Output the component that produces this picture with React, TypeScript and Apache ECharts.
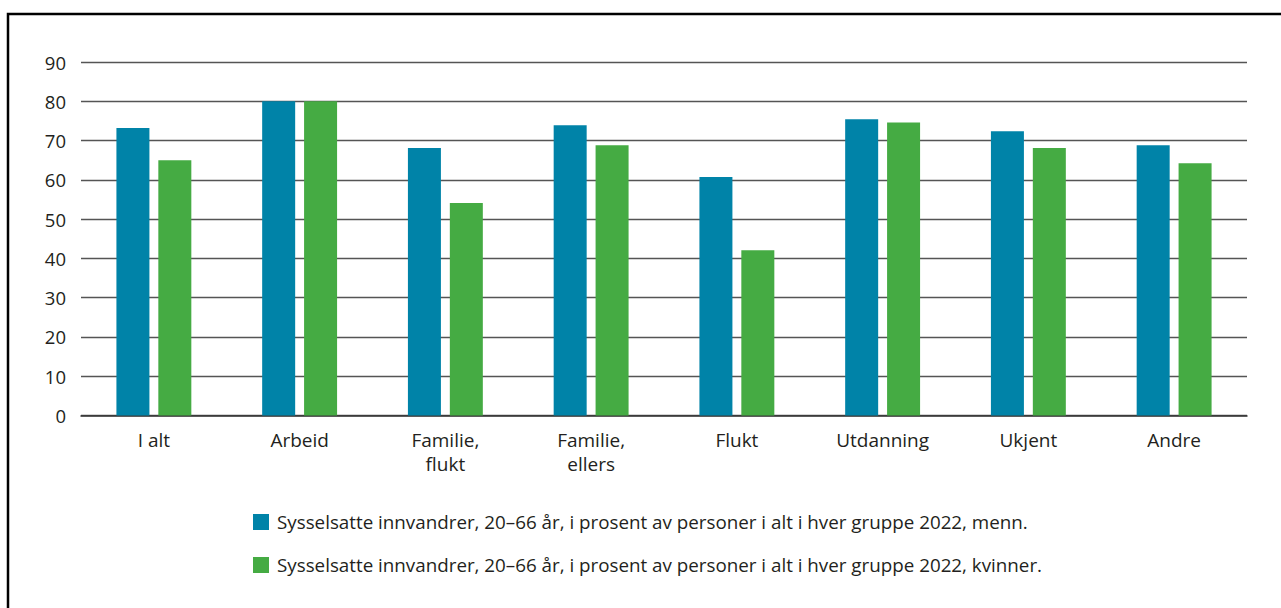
import React, { useEffect, useRef } from "react";
import * as echarts from "echarts";

const categories = ["I alt", "Arbeid", "Familie,\nflukt", "Familie,\nellers", "Flukt", "Utdanning", "Ukjent", "Andre"];
const menn = [73.2, 80.0, 68.1, 73.9, 60.7, 75.4, 72.4, 68.8];
const kvinner = [65.0, 80.0, 54.1, 68.8, 42.1, 74.6, 68.1, 64.2];
const seriesNames = [
  "Sysselsatte innvandrer, 20–66 år, i prosent av personer i alt i hver gruppe 2022, menn.",
  "Sysselsatte innvandrer, 20–66 år, i prosent av personer i alt i hver gruppe 2022, kvinner.",
];
const yTicks = { min: 0, max: 90, interval: 10 };

const FONT = "'Open Sans', 'Noto Sans', sans-serif";
const TEXT = "#231f20";

export default function App() {
  const ref = useRef<HTMLDivElement>(null);
  useEffect(() => {
    if (!ref.current) return;
    const chart = echarts.init(ref.current, undefined, { renderer: "svg" });
    chart.setOption({
      animation: false,
      backgroundColor: "#ffffff",
      textStyle: { fontFamily: FONT },
      graphic: [
        {
          type: "rect",
          shape: { x: 8, y: 14, width: 1400, height: 800 },
          style: { fill: "none", stroke: "#000", lineWidth: 2.5 },
          silent: true,
        },
      ],
      grid: { left: 81, right: 34, top: 62, bottom: 192.5, containLabel: false },
      legend: {
        orient: "vertical",
        left: 248,
        top: 506,
        itemWidth: 16,
        itemHeight: 16,
        itemGap: 21,
        icon: "rect",
        textStyle: { fontFamily: FONT, fontSize: 18.8, lineHeight: 22, color: TEXT, padding: [0, 0, 0, 3] },
        data: seriesNames,
      },
      xAxis: {
        type: "category",
        data: categories,
        axisLine: { show: true, lineStyle: { color: "#333", width: 1.5 } },
        axisTick: { show: false },
        axisLabel: { fontFamily: FONT, fontSize: 19, color: TEXT, margin: 12, lineHeight: 24 },
      },
      yAxis: {
        type: "value",
        min: yTicks.min,
        max: yTicks.max,
        interval: yTicks.interval,
        axisLine: { show: false },
        axisTick: { show: false },
        axisLabel: { fontFamily: FONT, fontSize: 18.5, color: TEXT, margin: 15 },
        splitLine: { lineStyle: { color: "#555", width: 1.3 } },
      },
      series: [
        {
          name: seriesNames[0],
          type: "bar",
          data: menn,
          itemStyle: { color: "#0083a8" },
          barWidth: 33,
          barGap: "27%",
        },
        {
          name: seriesNames[1],
          type: "bar",
          data: kvinner,
          itemStyle: { color: "#45ab43" },
          barWidth: 33,
          barGap: "27%",
        },
      ],
    });
    return () => chart.dispose();
  }, []);
  return (
    <div
      ref={ref}
      style={{ position: "absolute", left: 0, top: 0, width: 1281, height: 608 }}
    />
  );
}
